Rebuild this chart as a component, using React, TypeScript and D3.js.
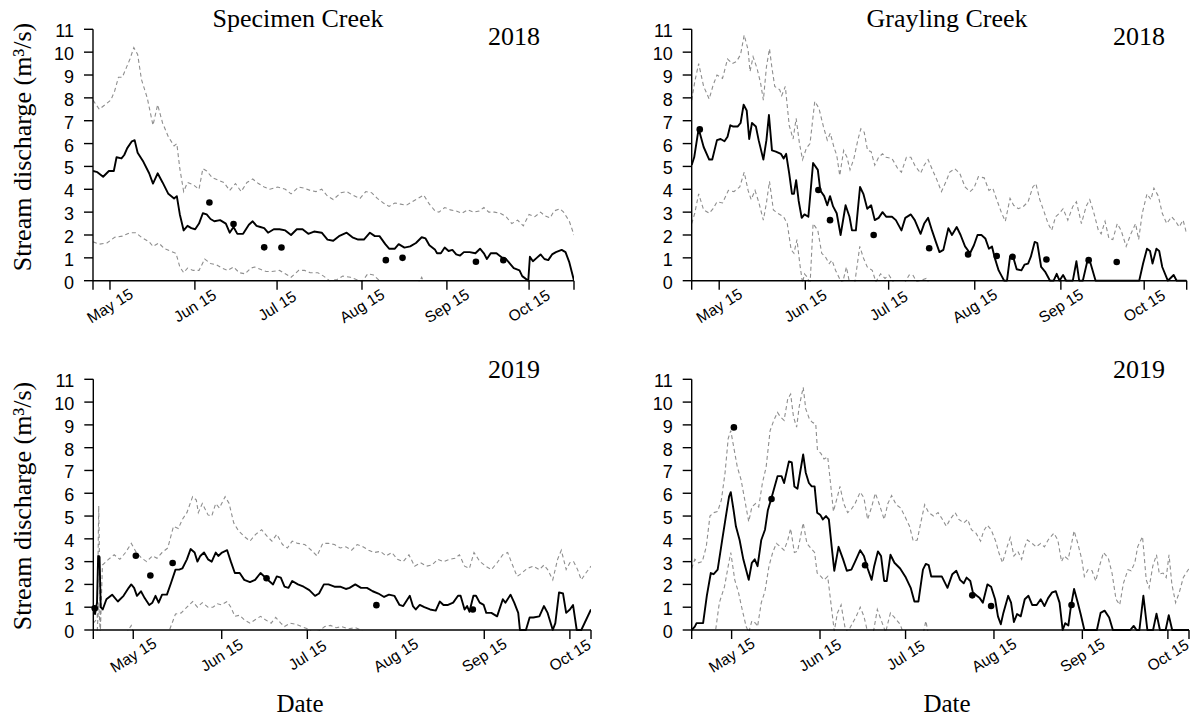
import React from "react";
import * as d3 from "d3";

type Pt = [number, number];

// Mid-month ticks on the day-of-year axis
const monthTickDays = [135, 166, 196, 227, 258, 288];
const monthTickLabels = ["May 15", "Jun 15", "Jul 15", "Aug 15", "Sep 15", "Oct 15"];
const dischargeTicks = [0, 1, 2, 3, 4, 5, 6, 7, 8, 9, 10, 11];

// ---- Specimen Creek 2018: [day of year, discharge m3/s] ----
const specimen2018Median: Pt[] = [
  [128.8, 4.8], [130.4, 4.75], [132.5, 4.55], [134.6, 4.8], [136.4, 4.8], [137.4, 5.4], [139.2, 5.35], [140.2, 5.5],
  [141.3, 5.8], [143.0, 6.1], [144.0, 6.15], [145.1, 5.6], [147.2, 5.2], [149.3, 4.7], [150.7, 4.25], [152.4, 4.7],
  [154.2, 4.3], [156.3, 3.8], [158.4, 3.6], [159.4, 3.7], [160.5, 2.9], [161.9, 2.2], [163.3, 2.4], [164.7, 2.3],
  [166.1, 2.25], [167.5, 2.5], [168.9, 2.95], [170.3, 2.9], [171.7, 2.7], [173.1, 2.6], [175.2, 2.65], [177.3, 2.5],
  [178.7, 2.1], [180.1, 2.35], [181.5, 2.05], [183.6, 2.05], [185.7, 2.45], [187.1, 2.6], [188.5, 2.4], [189.9, 2.35],
  [191.3, 2.3], [192.7, 2.1], [194.8, 2.25], [196.9, 2.25], [199.0, 2.2], [201.1, 2.0], [203.2, 2.25], [205.3, 2.25],
  [207.4, 2.05], [209.5, 2.15], [212.3, 2.1], [214.4, 1.8], [216.5, 1.75], [218.6, 1.95], [221.4, 2.1], [223.5, 1.9],
  [225.6, 1.8], [227.7, 1.8], [229.9, 2.1], [231.7, 1.95], [233.4, 1.95], [235.5, 1.6], [236.9, 1.4], [239.0, 1.4],
  [240.4, 1.6], [242.5, 1.45], [244.6, 1.5], [246.7, 1.65], [248.8, 1.9], [250.2, 1.85], [251.6, 1.55], [253.7, 1.35],
  [254.4, 1.2], [255.8, 1.2], [257.2, 1.45], [258.6, 1.3], [260.0, 1.35], [261.4, 1.15], [262.8, 1.1], [264.2, 1.25],
  [266.3, 1.25], [268.4, 1.2], [270.1, 1.4], [271.5, 1.2], [272.6, 0.95], [274.0, 1.2], [276.1, 1.2], [278.2, 1.0],
  [279.6, 0.95], [281.0, 0.75], [282.4, 0.55], [284.5, 0.45], [285.5, 0.2], [287.7, 0.0], [288.3, 1.05], [289.4, 0.85],
  [290.8, 1.0], [292.2, 1.15], [293.6, 0.95], [295.0, 0.9], [296.4, 1.15], [297.8, 1.25], [299.9, 1.35], [301.3, 1.25],
  [302.7, 0.8], [304.4, 0.0],
];
const specimen2018Upper: Pt[] = [
  [128.8, 7.9], [131.1, 7.5], [133.2, 7.7], [135.3, 7.9], [136.7, 8.3], [138.1, 8.9], [139.5, 8.9], [140.9, 9.3],
  [142.3, 9.7], [143.7, 10.2], [145.1, 9.9], [146.5, 8.8], [148.6, 8.0], [150.7, 6.8], [152.4, 7.7], [154.2, 6.9],
  [156.3, 6.3], [158.4, 5.9], [159.4, 6.0], [160.5, 4.9], [161.9, 3.9], [163.3, 4.3], [165.4, 4.2], [167.5, 4.0],
  [168.9, 4.9], [170.3, 4.8], [172.4, 4.5], [174.5, 4.4], [176.6, 4.3], [178.7, 3.95], [180.8, 4.25], [182.9, 3.9],
  [185.0, 4.3], [187.1, 4.45], [189.2, 4.25], [191.3, 4.1], [193.4, 4.0], [196.2, 4.1], [199.0, 4.0], [201.1, 3.8],
  [203.9, 4.1], [206.0, 4.05], [208.1, 3.95], [210.2, 3.9], [212.3, 4.0], [214.4, 3.7], [216.5, 3.55], [219.3, 3.85],
  [221.4, 3.9], [223.5, 3.75], [226.3, 3.6], [228.4, 3.9], [230.5, 3.85], [232.6, 3.6], [234.8, 3.4], [236.9, 3.25],
  [239.0, 3.4], [241.1, 3.35], [243.2, 3.3], [245.3, 3.45], [247.4, 3.6], [249.5, 3.75], [251.6, 3.35], [253.7, 3.05],
  [255.1, 3.0], [257.2, 3.2], [259.3, 3.1], [261.4, 3.05], [263.5, 2.95], [265.6, 3.1], [267.7, 3.0], [269.8, 3.05],
  [271.5, 3.2], [273.3, 3.0], [275.4, 3.0], [277.5, 2.95], [279.6, 2.8], [281.7, 2.5], [283.8, 2.65], [285.9, 2.4],
  [288.0, 2.9], [290.1, 2.8], [292.2, 3.0], [293.6, 2.85], [295.7, 2.75], [297.1, 3.05], [299.2, 3.15], [300.6, 3.0],
  [302.7, 2.6], [304.4, 2.0],
];
const specimen2018Lower: Pt[] = [
  [128.8, 1.7], [131.1, 1.6], [133.9, 1.65], [136.7, 1.9], [139.5, 1.95], [142.3, 2.1], [144.4, 2.1], [146.5, 1.9],
  [149.3, 1.7], [150.7, 1.5], [152.8, 1.65], [154.9, 1.4], [157.0, 1.3], [159.1, 1.2], [160.5, 0.6], [161.9, 0.35],
  [163.3, 0.55], [165.4, 0.45], [167.5, 0.45], [169.6, 0.95], [171.7, 0.75], [173.8, 0.7], [175.9, 0.55], [178.0, 0.45],
  [180.1, 0.6], [182.2, 0.35], [184.3, 0.3], [186.4, 0.55], [187.8, 0.6], [189.9, 0.5], [192.0, 0.4], [194.1, 0.4],
  [196.9, 0.45], [199.0, 0.3], [201.1, 0.15], [203.9, 0.45], [206.0, 0.45], [208.1, 0.35], [210.9, 0.35], [213.0, 0.2],
  [215.1, 0.0], [217.9, 0.05], [220.0, 0.2], [222.8, 0.15], [224.9, 0.05], [227.0, -0.05], [229.1, 0.3], [231.2, 0.25],
  [233.4, 0.0], [235.5, -0.3], [239.0, -0.4], [243.2, -0.5], [246.7, -0.3], [248.8, 0.15], [250.2, -0.3], [255.8, -0.6],
  [262.8, -0.6], [269.8, -0.7], [276.8, -0.8], [283.8, -0.9], [290.8, -0.8], [297.8, -0.7], [304.4, -1.0],
];
const specimen2018Obs: Pt[] = [
  [171.3, 3.42], [180.1, 2.48], [191.3, 1.46], [197.6, 1.45], [235.7, 0.9], [241.8, 1.0], [268.6, 0.83], [278.6, 0.9],
];

// ---- Grayling Creek 2018 ----
const grayling2018Median: Pt[] = [
  [125.1, 5.06], [126.0, 5.4], [127.6, 6.65], [129.4, 5.85], [131.4, 5.3], [132.5, 5.3], [134.2, 6.15], [135.5, 6.2],
  [136.9, 6.1], [138.0, 6.3], [139.0, 6.8], [139.9, 6.75], [141.7, 6.75], [142.7, 6.9], [143.8, 7.7], [144.9, 7.45],
  [145.8, 6.2], [146.8, 6.9], [148.2, 6.75], [149.2, 6.15], [150.9, 5.3], [152.0, 6.15], [152.9, 7.25], [154.0, 5.7],
  [155.4, 5.65], [157.2, 5.55], [158.2, 5.35], [159.1, 5.55], [160.2, 4.7], [161.2, 3.8], [161.9, 3.8], [162.7, 4.4],
  [163.6, 3.5], [164.7, 2.75], [165.7, 2.9], [167.1, 2.8], [168.8, 5.15], [170.5, 4.85], [171.4, 3.95], [172.8, 3.7],
  [173.9, 3.3], [174.9, 3.7], [176.0, 3.25], [177.3, 2.95], [178.7, 2.0], [180.5, 3.3], [181.9, 2.8], [182.8, 2.2],
  [184.2, 2.2], [185.7, 4.1], [186.9, 3.8], [188.3, 3.15], [189.7, 3.3], [191.0, 2.65], [192.4, 2.75], [193.8, 3.0],
  [195.1, 2.8], [197.2, 2.8], [198.6, 2.65], [200.6, 2.2], [202.0, 2.75], [204.0, 2.9], [205.4, 2.65], [207.5, 2.05],
  [208.8, 2.5], [210.2, 2.75], [211.6, 2.2], [213.0, 1.7], [214.3, 1.25], [215.7, 1.35], [217.5, 2.3], [218.8, 2.0],
  [220.5, 2.35], [221.9, 2.0], [223.5, 1.5], [225.3, 1.2], [226.7, 1.55], [228.0, 2.0], [229.4, 2.0], [230.8, 1.85],
  [232.1, 1.4], [233.2, 1.5], [234.2, 1.0], [235.6, 0.45], [236.7, 0.2], [237.6, 0], [238.6, 0], [239.7, 1.05],
  [240.8, 1.05], [242.1, 0.5], [243.8, 0.45], [244.9, 0.7], [246.2, 0.75], [247.2, 1.05], [248.6, 1.7], [249.5, 1.65],
  [250.9, 0.6], [252.3, 0.4], [254.1, 0], [255.4, 0], [256.5, 0.3], [257.5, 0], [258.8, 0.25], [259.9, 0],
  [262.3, 0], [263.6, 0.85], [264.6, 0], [265.9, 0], [267.8, 1.0], [268.7, 0.75], [270.5, 0], [286.2, 0],
  [287.6, 0.75], [289.0, 1.4], [290.1, 1.3], [291.0, 0.75], [292.4, 1.4], [293.4, 1.3], [294.5, 0.6], [296.5, 0],
  [298.6, 0.25], [299.7, 0], [303.3, 0],
];
const grayling2018Upper: Pt[] = [
  [125.1, 7.9], [126.2, 8.7], [127.6, 9.5], [129.4, 8.5], [131.4, 7.95], [132.8, 8.55], [134.2, 9.0], [136.2, 8.85],
  [138.0, 9.7], [139.7, 9.5], [141.3, 9.6], [142.7, 9.9], [144.0, 10.75], [145.4, 10.1], [146.1, 9.15], [147.2, 9.8],
  [148.6, 9.3], [149.9, 8.65], [150.9, 7.9], [152.0, 9.35], [153.1, 10.15], [154.0, 9.3], [155.0, 8.5], [156.8, 8.35],
  [157.5, 8.1], [158.8, 8.5], [160.2, 6.8], [161.6, 6.2], [162.7, 7.1], [163.9, 6.0], [165.0, 5.3], [166.4, 5.8],
  [167.7, 6.0], [169.4, 7.85], [170.9, 7.55], [172.5, 6.75], [173.9, 6.15], [175.0, 6.45], [176.4, 5.8], [177.3, 5.5],
  [178.4, 4.6], [179.8, 5.7], [181.0, 5.4], [182.1, 4.85], [183.5, 5.35], [184.9, 6.15], [186.0, 6.65], [187.2, 6.5],
  [188.4, 5.7], [189.7, 5.65], [191.0, 5.05], [192.4, 5.4], [193.8, 5.55], [195.1, 5.4], [197.2, 5.35], [199.3, 4.9],
  [200.6, 4.75], [202.4, 5.4], [204.0, 5.4], [205.4, 5.05], [207.5, 4.7], [208.8, 5.05], [210.2, 5.3], [211.6, 4.9],
  [213.4, 4.4], [215.0, 3.9], [216.7, 4.35], [218.0, 4.75], [219.8, 4.9], [221.6, 4.7], [223.5, 4.1], [225.3, 3.9],
  [226.7, 4.05], [228.3, 4.55], [230.4, 4.5], [232.1, 3.95], [233.5, 4.05], [234.9, 3.55], [236.7, 2.95], [238.0, 2.6],
  [239.7, 3.6], [241.0, 3.3], [242.7, 3.15], [244.5, 3.25], [246.2, 3.45], [247.9, 4.1], [249.0, 4.25], [250.4, 3.55],
  [252.0, 3.0], [253.4, 2.5], [254.7, 2.2], [256.1, 2.8], [257.5, 2.95], [258.8, 3.15], [260.5, 2.65], [262.3, 3.25],
  [263.6, 3.45], [265.4, 2.5], [267.1, 3.25], [268.4, 3.55], [269.8, 3.0], [271.5, 2.2], [272.5, 2.05], [273.9, 2.6],
  [275.3, 1.85], [276.7, 1.8], [278.3, 2.5], [279.7, 2.2], [281.5, 1.5], [283.2, 2.05], [284.9, 2.5], [286.0, 1.8],
  [287.3, 2.95], [289.0, 3.8], [290.4, 3.55], [291.5, 4.05], [293.1, 3.7], [294.5, 2.95], [296.1, 2.5], [297.9, 2.8],
  [299.3, 2.6], [300.6, 2.35], [302.0, 2.65], [303.3, 2.05],
];
const grayling2018Lower: Pt[] = [
  [125.1, 2.5], [126.2, 2.95], [127.6, 3.8], [129.4, 3.1], [131.4, 2.95], [132.8, 3.15], [134.2, 3.45], [136.2, 3.4],
  [138.3, 3.95], [140.3, 3.9], [142.4, 4.1], [144.0, 4.75], [145.4, 3.95], [146.5, 3.55], [147.9, 3.95], [149.2, 3.45],
  [150.9, 2.65], [152.0, 3.4], [153.1, 4.35], [154.5, 3.1], [156.1, 2.95], [158.2, 2.8], [159.5, 2.5], [160.9, 1.35],
  [161.9, 1.2], [163.0, 1.8], [164.0, 0.75], [165.0, -0.1], [165.7, 0.3], [166.8, 0.15], [167.7, -0.2], [168.8, 2.5],
  [170.5, 2.2], [171.9, 1.2], [173.2, 1.05], [174.6, 0.75], [175.6, 0.9], [176.9, 0.45], [178.3, 0.1], [179.4, -0.1],
  [180.8, 0.6], [182.1, -0.2], [183.8, -0.1], [185.6, 1.5], [186.9, 1.0], [188.3, 0.6], [190.1, 0.45], [191.4, -0.05],
  [193.1, 0.3], [194.7, 0.1], [196.1, 0.25], [197.9, -0.1], [201.3, -0.2], [203.4, 0.25], [204.7, 0.25], [206.1, -0.05],
  [209.5, 0.1], [210.9, -0.2], [215.0, -0.8], [221.9, -1.0], [228.7, -1.2], [242.4, -1.5], [256.1, -1.5], [269.8, -1.5],
  [283.5, -1.5], [303.3, -1.5],
];
const grayling2018Obs: Pt[] = [
  [128.0, 6.62], [170.7, 3.97], [174.9, 2.65], [190.6, 2.0], [210.6, 1.42], [224.6, 1.15], [234.9, 1.08], [240.6, 1.05],
  [252.8, 0.93], [268.0, 0.9], [278.1, 0.82],
];

// ---- Specimen Creek 2019 ----
const specimen2019Median: Pt[] = [
  [121.0, 1.0], [121.6, 0.7], [122.3, 1.2], [122.7, 3.25], [123.2, 3.2], [123.6, 1.0], [124.3, 0.9], [125.6, 1.35],
  [127.6, 1.55], [129.6, 1.25], [131.6, 1.5], [133.4, 1.85], [134.3, 2.0], [135.3, 1.85], [136.3, 1.5], [137.7, 1.7],
  [139.0, 1.4], [140.6, 1.1], [141.7, 1.2], [142.8, 1.5], [143.9, 1.2], [145.1, 1.55], [146.8, 1.55], [148.2, 2.05],
  [149.8, 2.65], [151.1, 2.65], [152.2, 2.7], [153.8, 3.1], [155.1, 3.55], [156.5, 3.4], [157.5, 3.0], [158.5, 3.25],
  [159.8, 3.4], [161.2, 3.1], [162.5, 3.0], [163.9, 3.4], [164.8, 3.25], [166.1, 3.4], [167.9, 3.5], [169.2, 3.0],
  [170.6, 2.5], [172.3, 2.5], [173.9, 2.2], [175.9, 2.1], [177.7, 2.2], [179.6, 2.5], [180.9, 2.35], [182.6, 2.15],
  [184.0, 2.0], [185.3, 2.35], [186.7, 2.3], [188.0, 1.9], [189.4, 1.85], [190.7, 2.15], [192.7, 2.0], [194.7, 1.9],
  [196.7, 1.75], [198.7, 1.5], [200.1, 1.6], [201.8, 2.0], [203.4, 2.0], [205.5, 1.9], [207.5, 1.9], [209.5, 1.8],
  [210.8, 1.85], [212.8, 2.0], [214.8, 1.85], [216.9, 1.85], [218.9, 1.7], [220.9, 1.6], [222.9, 1.45], [224.6, 1.55],
  [226.5, 1.5], [228.3, 1.1], [229.6, 1.05], [231.9, 1.5], [233.0, 1.05], [234.0, 0.9], [235.4, 1.1], [237.0, 1.0],
  [239.0, 0.9], [241.0, 0.85], [242.4, 1.25], [243.7, 1.1], [245.3, 1.1], [247.1, 1.2], [248.8, 1.5], [249.7, 1.5],
  [251.1, 0.9], [252.0, 1.05], [252.8, 0.8], [254.2, 1.5], [255.1, 1.5], [256.4, 1.2], [257.8, 1.1], [258.7, 0.75],
  [260.5, 0.75], [262.5, 0.6], [264.5, 1.35], [265.4, 1.2], [267.2, 1.55], [268.5, 1.2], [269.9, 0.75], [270.5, 0],
  [272.6, 0], [273.9, 0.55], [275.2, 0.55], [277.3, 0.6], [278.9, 1.05], [280.2, 0.75], [282.0, 0], [282.9, 0.3],
  [284.2, 1.65], [285.6, 1.6], [286.7, 0.75], [288.0, 0.9], [289.1, 1.1], [290.4, 0], [292.0, 0], [295.4, 0.9],
];
const specimen2019Upper: Pt[] = [
  [121.0, 0.3], [122.4, 0.5], [122.9, 5.45], [123.5, 0.0], [124.2, 2.85], [126.3, 3.1], [128.3, 3.3], [130.3, 3.1],
  [132.3, 3.4], [134.3, 3.8], [136.1, 3.4], [138.0, 3.15], [139.7, 3.0], [141.7, 3.25], [143.3, 3.15], [145.1, 3.4],
  [147.1, 3.6], [149.1, 4.55], [150.8, 4.45], [152.2, 4.85], [153.8, 5.15], [155.8, 5.85], [157.1, 5.7], [157.8, 5.15],
  [159.2, 5.55], [161.2, 5.05], [162.5, 5.0], [163.9, 5.55], [165.2, 5.35], [167.2, 5.85], [168.6, 5.55], [170.2, 4.7],
  [171.9, 4.35], [173.9, 4.1], [175.9, 3.9], [177.9, 4.2], [180.0, 4.4], [182.0, 4.1], [183.6, 3.9], [185.3, 4.2],
  [187.3, 3.75], [189.0, 3.6], [190.7, 3.9], [192.7, 3.8], [195.1, 3.75], [197.4, 3.5], [199.4, 3.25], [201.4, 3.8],
  [203.4, 3.8], [205.5, 3.75], [207.5, 3.6], [209.5, 3.65], [211.5, 3.5], [213.5, 3.75], [215.5, 3.65], [217.5, 3.5],
  [219.5, 3.4], [221.6, 3.45], [223.6, 3.25], [225.6, 3.4], [227.6, 3.1], [229.6, 3.0], [231.6, 3.3], [233.6, 2.8],
  [235.7, 2.95], [237.7, 2.8], [239.7, 2.85], [241.7, 3.1], [243.7, 3.0], [245.7, 3.1], [247.7, 3.15], [249.3, 3.3],
  [251.1, 2.8], [252.8, 2.7], [254.4, 3.4], [256.5, 3.0], [258.5, 2.8], [260.5, 2.65], [262.5, 2.95], [264.5, 3.3],
  [266.2, 3.4], [267.9, 2.85], [269.5, 2.35], [271.2, 2.5], [273.0, 2.7], [275.2, 2.8], [277.3, 2.65], [278.9, 2.85],
  [280.2, 2.65], [282.0, 2.2], [283.7, 3.1], [285.0, 3.5], [286.7, 2.65], [288.0, 2.95], [289.3, 3.0], [290.7, 2.65],
  [292.0, 2.2], [293.6, 2.5], [295.4, 2.8],
];
const specimen2019Lower: Pt[] = [
  [121.0, -0.3], [122.4, 0.0], [122.9, 1.2], [123.5, -0.3], [128.3, -0.5], [132.3, -0.2], [134.3, 0.2], [135.3, -0.2],
  [141.7, -0.6], [145.7, -0.3], [147.7, 0.0], [149.8, 0.7], [151.8, 0.75], [153.8, 1.0], [155.8, 1.25], [157.5, 1.0],
  [159.2, 1.2], [161.2, 1.0], [162.9, 1.0], [164.5, 1.15], [165.9, 1.1], [167.9, 1.25], [169.2, 1.0], [170.6, 0.6],
  [172.3, 0.65], [173.9, 0.45], [175.9, 0.3], [177.7, 0.45], [179.6, 0.6], [181.3, 0.45], [183.3, 0.3], [184.9, 0.55],
  [186.7, 0.3], [188.0, 0.15], [190.0, 0.3], [192.0, 0.25], [194.0, 0.15], [196.1, 0.05], [197.8, -0.1], [200.1, -0.05],
  [202.1, 0.15], [204.1, 0.2], [206.1, 0.1], [208.1, 0.15], [210.2, 0.05], [212.8, 0.1], [214.8, 0.0], [216.9, -0.3],
  [222.2, -0.6], [235.7, -1.0], [249.1, -1.2], [262.5, -1.3], [275.9, -1.2], [295.4, -1.0],
];
const specimen2019Obs: Pt[] = [
  [121.5, 0.95], [135.9, 3.26], [141.0, 2.39], [148.8, 2.94], [181.7, 2.27], [220.2, 1.09], [254.0, 0.9],
];

// ---- Grayling Creek 2019 ----
const grayling2019Median: Pt[] = [
  [121.0, 0], [122.1, 0.15], [122.7, 0.3], [124.1, 0.3], [125.0, 0.3], [126.3, 1.5], [127.7, 2.5], [128.7, 2.45],
  [130.1, 2.65], [131.7, 3.95], [133.0, 5.0], [134.1, 5.85], [134.7, 6.05], [135.7, 5.25], [136.5, 4.55], [137.8, 3.95],
  [139.1, 3.1], [141.0, 2.2], [142.1, 2.95], [143.1, 3.1], [144.1, 2.8], [145.4, 3.95], [146.7, 4.4], [147.7, 5.25],
  [149.0, 5.8], [150.1, 6.3], [151.1, 6.75], [152.5, 6.75], [153.4, 6.45], [154.3, 6.95], [155.1, 7.4], [156.1, 7.35],
  [157.0, 6.3], [158.1, 6.2], [159.0, 6.9], [160.1, 7.7], [161.0, 6.9], [162.1, 6.45], [163.1, 6.3], [164.1, 6.3],
  [165.0, 5.15], [166.1, 5.05], [167.0, 4.85], [168.1, 5.0], [169.1, 4.85], [170.1, 3.65], [171.0, 2.6], [172.5, 3.65],
  [174.1, 3.1], [175.4, 2.6], [177.0, 2.65], [178.3, 3.0], [180.1, 3.5], [181.4, 3.25], [182.7, 2.7], [184.1, 2.2],
  [185.0, 2.8], [186.3, 3.45], [187.4, 3.25], [188.5, 2.15], [189.4, 2.15], [190.7, 3.3], [192.1, 2.95], [194.1, 2.7],
  [196.1, 2.3], [197.8, 1.85], [199.1, 1.25], [200.5, 1.25], [202.1, 2.65], [203.1, 2.9], [204.1, 2.85], [205.0, 2.35],
  [206.7, 2.35], [208.7, 2.35], [210.7, 1.85], [212.4, 2.45], [213.8, 2.6], [215.1, 2.2], [216.4, 2.05], [217.4, 2.3],
  [218.7, 2.15], [219.6, 1.65], [221.0, 1.5], [222.0, 1.4], [223.1, 1.2], [224.7, 2.0], [226.0, 1.9], [227.4, 1.35],
  [228.4, 0.6], [229.4, 0.25], [230.3, 0.75], [232.0, 1.5], [233.0, 1.2], [234.0, 0.35], [235.1, 0.7], [236.4, 0.6],
  [237.8, 1.35], [239.1, 1.5], [240.4, 1.1], [242.0, 1.1], [243.4, 1.35], [244.7, 1.05], [246.0, 1.4], [247.4, 1.65],
  [248.7, 1.7], [250.0, 1.2], [251.1, 0], [252.0, 0.3], [253.1, 0.2], [254.0, 1.05], [255.1, 1.8], [256.4, 1.2],
  [257.4, 0.7], [258.7, 0], [263.1, 0], [264.4, 0.75], [265.8, 0.85], [267.4, 0.55], [268.7, 0], [274.8, 0],
  [276.0, 0.18], [277.0, 0], [278.0, 0], [279.4, 1.5], [280.8, 0], [282.8, 0], [284.0, 0.72], [285.2, 0],
  [287.2, 0], [288.3, 0.65], [289.5, 0], [295.4, 0],
];
const grayling2019Upper: Pt[] = [
  [121.0, 2.7], [122.1, 3.1], [123.4, 2.95], [124.7, 3.0], [126.1, 3.65], [127.4, 5.0], [128.7, 5.15], [130.1, 5.2],
  [131.4, 5.7], [132.7, 6.9], [133.8, 8.4], [134.7, 8.75], [135.7, 8.05], [137.0, 7.15], [138.3, 6.6], [139.4, 5.85],
  [141.0, 4.75], [142.1, 5.4], [143.4, 5.55], [144.5, 5.4], [145.8, 6.45], [147.1, 7.15], [148.5, 8.75], [149.8, 9.2],
  [151.1, 9.55], [152.1, 9.35], [153.4, 9.2], [154.7, 10.15], [155.7, 10.35], [156.7, 9.35], [157.8, 8.9], [158.7, 9.8],
  [160.1, 10.65], [161.0, 9.7], [162.3, 9.25], [163.4, 9.1], [164.5, 9.05], [165.1, 7.9], [166.3, 7.75], [167.4, 7.5],
  [168.7, 7.6], [169.8, 6.3], [170.7, 5.2], [172.1, 5.85], [173.0, 6.3], [174.3, 5.55], [175.7, 5.15], [177.0, 5.3],
  [178.3, 5.55], [180.1, 6.05], [181.4, 5.8], [182.7, 4.85], [184.1, 5.4], [185.4, 6.0], [186.7, 5.55], [188.5, 4.85],
  [189.8, 5.55], [191.1, 5.9], [192.7, 5.5], [194.3, 5.35], [195.7, 5.0], [197.4, 4.55], [198.7, 3.9], [200.1, 3.95],
  [201.4, 4.75], [202.7, 5.5], [204.1, 5.15], [205.8, 5.0], [207.4, 5.15], [208.7, 4.9], [210.3, 4.55], [211.6, 4.85],
  [213.4, 5.15], [214.7, 4.85], [216.4, 4.7], [217.8, 4.85], [219.1, 4.4], [220.7, 4.25], [222.3, 3.9], [223.4, 4.35],
  [224.7, 4.6], [226.0, 4.4], [227.6, 3.9], [228.7, 3.4], [230.0, 2.95], [231.6, 3.65], [232.7, 4.05], [234.0, 3.25],
  [235.4, 3.45], [236.7, 3.1], [237.8, 3.65], [238.7, 3.95], [240.4, 3.8], [241.8, 3.65], [243.4, 3.8], [244.7, 3.65],
  [246.0, 3.95], [248.0, 4.25], [249.4, 3.95], [250.7, 3.0], [251.6, 3.25], [253.0, 3.1], [254.0, 3.65], [255.1, 4.35],
  [256.4, 3.8], [257.8, 3.1], [258.7, 2.35], [260.0, 2.65], [261.4, 2.6], [262.7, 2.15], [264.0, 2.8], [265.4, 3.4],
  [267.1, 3.15], [268.4, 2.5], [269.8, 1.35], [271.1, 1.1], [272.4, 2.05], [274.0, 2.65], [275.1, 2.6], [276.4, 2.95],
  [277.4, 3.65], [279.1, 4.1], [280.4, 2.2], [281.4, 1.85], [282.7, 2.8], [284.0, 3.3], [285.0, 2.45], [286.3, 2.5],
  [287.4, 2.3], [288.4, 3.3], [289.4, 2.0], [290.7, 1.2], [292.0, 1.65], [293.4, 2.3], [295.4, 2.7],
];
const grayling2019Lower: Pt[] = [
  [121.0, -1.0], [127.4, -0.5], [129.4, 0.0], [130.7, 1.2], [132.5, 1.9], [133.8, 2.8], [134.7, 3.4], [136.1, 2.2],
  [137.4, 1.65], [138.7, 0.9], [140.1, 0.15], [141.0, -0.1], [142.1, 0.4], [143.4, 0.3], [144.1, 0.15], [145.4, 1.2],
  [146.7, 1.7], [148.1, 2.8], [149.4, 3.4], [150.7, 3.8], [152.1, 3.65], [153.4, 3.5], [154.7, 3.95], [155.7, 4.45],
  [157.0, 3.4], [158.1, 3.45], [159.1, 4.05], [160.1, 4.7], [161.4, 3.8], [162.7, 3.6], [164.1, 3.4], [165.0, 2.5],
  [166.3, 2.35], [167.4, 2.2], [168.7, 2.35], [169.8, 1.2], [171.0, -0.05], [172.1, 0.75], [173.4, 1.1], [174.7, 0.15],
  [175.7, -0.1], [177.4, 0.3], [178.7, 0.6], [180.1, 1.0], [181.4, 0.6], [182.7, -0.1], [184.7, -0.1], [186.1, 0.9],
  [187.4, 0.45], [189.0, -0.1], [190.7, 0.75], [192.1, 0.55], [194.1, 0.25], [195.4, -0.2], [200.7, -0.5], [202.3, -0.1],
  [203.1, 0.4], [203.9, -0.1], [208.7, -0.8], [222.0, -1.2], [235.4, -1.5], [248.7, -1.5], [295.4, -1.5],
];
const grayling2019Obs: Pt[] = [
  [135.8, 8.89], [149.0, 5.75], [181.8, 2.84], [219.4, 1.52], [226.0, 1.05], [254.2, 1.1],
];

interface PanelSpec {
  id: string;
  creek?: string;
  creekX: number;
  year: string;
  yearX: number;
  yearY: number;
  median: Pt[];
  upper: Pt[];
  lower: Pt[];
  obs: Pt[];
  dayRange: [number, number];
  left: number;
  right: number;
  top: number;
  bottom: number;
  yTitleY?: number;
  xTitleX?: number;
}

const panels: PanelSpec[] = [
  {
    id: "sc18", creek: "Specimen Creek", creekX: 298, year: "2018", yearX: 514, yearY: 45,
    median: specimen2018Median, upper: specimen2018Upper, lower: specimen2018Lower, obs: specimen2018Obs,
    dayRange: [128.8, 304.4], left: 93, right: 574, top: 29.3, bottom: 280.7, yTitleY: 147,
  },
  {
    id: "gc18", creek: "Grayling Creek", creekX: 947, year: "2018", yearX: 1139, yearY: 45,
    median: grayling2018Median, upper: grayling2018Upper, lower: grayling2018Lower, obs: grayling2018Obs,
    dayRange: [125.1, 303.3], left: 691.7, right: 1186.7, top: 29.3, bottom: 280.7,
  },
  {
    id: "sc19", creekX: 0, year: "2019", yearX: 514, yearY: 378,
    median: specimen2019Median, upper: specimen2019Upper, lower: specimen2019Lower, obs: specimen2019Obs,
    dayRange: [121.0, 295.4], left: 93.3, right: 591, top: 379.3, bottom: 630, yTitleY: 506, xTitleX: 300,
  },
  {
    id: "gc19", creekX: 0, year: "2019", yearX: 1139, yearY: 378,
    median: grayling2019Median, upper: grayling2019Upper, lower: grayling2019Lower, obs: grayling2019Obs,
    dayRange: [121.0, 295.4], left: 691.7, right: 1189, top: 379.3, bottom: 630, xTitleX: 947,
  },
];

const SERIF = "'Liberation Serif', 'Times New Roman', Times, serif";
const SANS = "'Liberation Sans', Arial, Helvetica, sans-serif";

function Panel({ s }: { s: PanelSpec }) {
  const x = d3.scaleLinear().domain(s.dayRange).range([s.left, s.right]);
  const y = d3.scaleLinear().domain([0, 11]).range([s.bottom, s.top]);
  const line = d3.line<Pt>().x((d) => x(d[0])).y((d) => y(d[1]));
  const clipId = `clip-${s.id}`;
  const xTicks = [s.dayRange[0], ...monthTickDays, s.dayRange[1]];
  const tickLen = 9;

  return (
    <g>
      <defs>
        <clipPath id={clipId}>
          <rect x={s.left} y={s.top - 20} width={s.right - s.left} height={s.bottom - s.top + 21} />
        </clipPath>
      </defs>

      <g clipPath={`url(#${clipId})`}>
        <path d={line(s.upper) ?? ""} fill="none" stroke="#8e8e8e" strokeWidth={1.1} strokeDasharray="4 3" />
        <path d={line(s.lower) ?? ""} fill="none" stroke="#8e8e8e" strokeWidth={1.1} strokeDasharray="4 3" />
        <path d={line(s.median) ?? ""} fill="none" stroke="#000" strokeWidth={1.9} strokeLinejoin="round" />
      </g>

      {s.obs.map((d, i) => (
        <circle key={i} cx={x(d[0])} cy={y(d[1])} r={3.3} fill="#000" />
      ))}

      {/* y axis */}
      <line x1={s.left} x2={s.left} y1={y(0)} y2={y(11)} stroke="#000" strokeWidth={1.4} />
      {dischargeTicks.map((t) => (
        <g key={t}>
          <line x1={s.left - tickLen} x2={s.left} y1={y(t)} y2={y(t)} stroke="#000" strokeWidth={1.4} />
          <text x={s.left - 19} y={y(t) + 8} textAnchor="end" fontFamily={SANS} fontSize={18} fill="#000">
            {t}
          </text>
        </g>
      ))}

      {/* x axis */}
      <line x1={s.left} x2={s.right} y1={s.bottom} y2={s.bottom} stroke="#000" strokeWidth={1.4} />
      {xTicks.map((t, i) => (
        <line key={i} x1={x(t)} x2={x(t)} y1={s.bottom} y2={s.bottom + tickLen} stroke="#000" strokeWidth={1.4} />
      ))}
      {monthTickDays.map((t, i) => {
        const cx = x(t);
        const cy = s.bottom + 25;
        return (
          <text
            key={t}
            x={cx}
            y={cy}
            transform={`rotate(-32 ${cx} ${cy})`}
            textAnchor="middle"
            dominantBaseline="central"
            fontFamily={SANS}
            fontSize={15.5}
            fill="#000"
          >
            {monthTickLabels[i]}
          </text>
        );
      })}

      {s.creek && (
        <text x={s.creekX} y={27} textAnchor="middle" fontFamily={SERIF} fontSize={26} fill="#000">
          {s.creek}
        </text>
      )}
      <text x={s.yearX} y={s.yearY} textAnchor="middle" fontFamily={SERIF} fontSize={26} fill="#000">
        {s.year}
      </text>

      {s.yTitleY !== undefined && (
        <text
          x={31}
          y={s.yTitleY}
          transform={`rotate(-90 31 ${s.yTitleY})`}
          textAnchor="middle"
          fontFamily={SERIF}
          fontSize={26}
          fill="#000"
        >
          Stream discharge (m³/s)
        </text>
      )}
      {s.xTitleX !== undefined && (
        <text x={s.xTitleX} y={712} textAnchor="middle" fontFamily={SERIF} fontSize={25} fill="#000">
          Date
        </text>
      )}
    </g>
  );
}

export default function App() {
  return (
    <svg
      width={1196}
      height={717}
      viewBox="0 0 1196 717"
      style={{ position: "absolute", left: 0, top: 0, background: "#fff" }}
    >
      <rect x={0} y={0} width={1196} height={717} fill="#fff" />
      {panels.map((p) => (
        <Panel key={p.id} s={p} />
      ))}
    </svg>
  );
}
